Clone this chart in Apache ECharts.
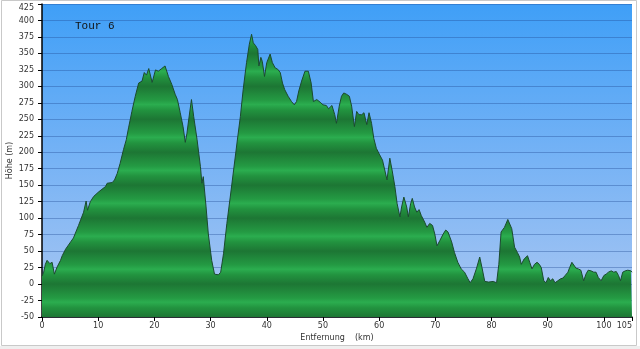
<!DOCTYPE html>
<html>
<head>
<meta charset="utf-8">
<script src="https://cdn.jsdelivr.net/npm/echarts@6/dist/echarts.min.js"></script>
<style>
html,body{margin:0;padding:0;background:#efefef;}
#wrap{position:absolute;left:0;top:0;width:640px;height:349px;}
#chart{width:640px;height:349px;}
</style>
</head>
<body>
<div id="wrap"><div id="chart"></div></div>
<script>
const distKm = [0.0,0.3,0.6,0.9,1.2,1.4,1.8,2.2,2.4,2.7,3.0,3.3,3.6,4.2,4.5,5.1,5.6,6.5,7.4,7.85,8.1,8.6,9.2,10.1,11.3,11.6,12.5,12.9,13.4,13.9,14.5,15.0,15.4,16.0,16.6,17.2,17.8,18.2,18.6,19.0,19.6,20.2,20.7,21.3,21.9,22.5,23.1,23.7,24.1,24.6,25.1,25.5,25.8,26.1,26.6,27.0,27.6,28.2,28.45,28.7,29.2,29.6,30.2,30.7,31.4,31.8,32.3,32.9,33.5,34.1,34.7,35.3,35.8,36.4,36.9,37.3,37.6,38.0,38.4,38.6,38.95,39.2,39.6,40.0,40.6,41.0,41.5,41.95,42.4,42.8,43.2,43.8,44.4,44.9,45.3,45.7,46.2,46.8,47.4,47.9,48.3,48.9,49.5,50.0,50.6,51.0,51.6,52.1,52.4,52.9,53.3,53.7,54.2,54.7,55.1,55.6,56.0,56.4,56.9,57.3,57.8,58.2,58.65,59.05,59.5,60.1,60.6,61.0,61.4,61.9,62.3,62.8,63.2,63.7,64.0,64.4,64.9,65.2,65.6,65.9,66.3,66.7,67.1,67.5,68.1,68.5,69.0,69.5,69.9,70.3,70.8,71.4,71.85,72.25,72.9,73.4,74.0,74.6,75.2,75.8,76.2,76.7,77.3,77.9,78.3,78.8,79.5,80.3,80.9,81.3,81.7,82.3,82.9,83.2,83.6,84.1,84.6,85.0,85.3,85.8,86.4,86.8,87.2,87.65,88.1,88.5,88.85,89.3,89.7,90.1,90.5,90.9,91.3,91.8,92.3,92.7,93.1,93.6,93.9,94.3,94.6,95.05,95.45,95.9,96.4,96.8,97.2,97.7,98.2,98.6,99.0,99.5,100.0,100.4,100.8,101.3,101.75,102.2,102.6,102.95,103.35,103.8,104.25,104.8,105.0];
const elevM = [12,18,30,36,38,31,33,15,17,26,24,36,43,53,52,64,70,89,109,126,112,125,133,140,148,153,154,158,168,183,204,219,237,262,285,305,308,321,317,327,306,325,323,327,331,315,303,288,280,260,239,215,229,249,280,254,219,178,153,163,117,76,36,15,14,18,46,92,132,173,214,254,295,336,364,379,366,362,356,331,344,338,315,336,349,336,328,326,321,305,295,285,277,272,277,293,308,323,323,305,277,280,276,272,271,266,271,257,244,270,285,290,288,285,270,239,262,257,257,260,242,260,244,221,206,196,188,173,158,191,173,148,122,102,117,132,117,102,122,130,117,109,113,104,94,86,92,89,76,58,66,76,82,79,64,48,33,23,18,8,2,8,23,41,25,4,3,4,2,30,79,86,98,99,84,56,48,41,30,38,43,33,23,30,33,30,25,5,2,10,5,8,2,5,8,9,13,18,25,33,35,24,23,21,5,15,21,20,18,18,10,5,13,15,18,20,18,19,13,5,18,20,21,20,18];
const xTicks = {min: 0, max: 105, interval: 10};
const yTicks = {min: -50, max: 425, interval: 25};
const titleText = 'Tour 6';
const xName = 'Entfernung    (km)';
const yName = 'Höhe (m)';

const points = distKm.map((d, i) => [d, elevM[i]]);

// banded green fill (dark at every 50 m), global pixel gradient
const gTop = 4, gBottom = 317;
const pxPer50 = (gBottom - gTop) / 19 * 2;
const bandTopPx = gBottom - 10 * pxPer50;
const bandStops = [];
for (let k = 0; k < 10; k++) {
  const b = k / 10, s = 1 / 10;
  bandStops.push({offset: b, color: '#1d7634'});
  bandStops.push({offset: b + s * 0.28, color: '#22933f'});
  bandStops.push({offset: b + s * 0.45, color: '#2bad4f'});
  bandStops.push({offset: b + s * 0.58, color: '#249a43'});
}
bandStops.push({offset: 1, color: '#1d7634'});

const lbl = {fontFamily: 'DejaVu Sans', fontSize: 8, color: '#333'};

const chart = echarts.init(document.getElementById('chart'), null, {renderer: 'canvas'});
chart.setOption({
  backgroundColor: '#ffffff',
  animation: false,
  title: {
    text: titleText, left: 75, top: 21, padding: 0,
    textStyle: {fontFamily: 'Liberation Mono', fontSize: 11, fontWeight: 'normal', color: '#111'}
  },
  graphic: [{
    type: 'rect', silent: true, z: -1,
    shape: {x: 1.5, y: 0.5, width: 635, height: 345},
    style: {fill: 'none', stroke: '#c9c9c9', lineWidth: 1}
  }, {
    type: 'rect', silent: true, z: -1,
    shape: {x: 0, y: 346, width: 640, height: 3},
    style: {fill: '#efefef'}
  }],
  grid: {
    left: 42, right: 8, top: gTop, bottom: 349 - gBottom,
    outerBoundsMode: 'none', containLabel: false,
    show: true, borderWidth: 0,
    backgroundColor: new echarts.graphic.LinearGradient(0, 0, 0, 1, [
      {offset: 0, color: '#3f9ff7'},
      {offset: 0.5, color: '#77b3f5'},
      {offset: 1, color: '#abc7f2'}
    ])
  },
  xAxis: {
    type: 'value', min: xTicks.min, max: xTicks.max, interval: xTicks.interval,
    name: xName, nameLocation: 'middle', nameGap: 17, nameMoveOverlap: false,
    nameTextStyle: lbl,
    axisLine: {show: true, onZero: false, lineStyle: {color: '#000', width: 1.5}},
    axisTick: {show: true, length: 4, lineStyle: {color: '#000'}},
    axisLabel: Object.assign({margin: 5, alignMaxLabel: 'right'}, lbl),
    splitLine: {show: false}
  },
  yAxis: {
    type: 'value', min: yTicks.min, max: yTicks.max, interval: yTicks.interval,
    name: yName, nameLocation: 'middle', nameGap: 28, nameRotate: 90, nameMoveOverlap: false,
    nameTextStyle: lbl,
    axisLine: {show: true, onZero: false, lineStyle: {color: '#000', width: 1.5}},
    axisTick: {show: true, length: 4, lineStyle: {color: '#000'}},
    axisLabel: Object.assign({margin: 8, verticalAlignMaxLabel: 'top'}, lbl),
    splitLine: {show: true, lineStyle: {color: 'rgba(35,75,150,0.38)', width: 1}}
  },
  series: [{
    type: 'line', data: points, symbol: 'none', smooth: false,
    lineStyle: {color: '#1b4a2e', width: 1},
    areaStyle: {
      origin: 'start', opacity: 1,
      color: new echarts.graphic.LinearGradient(0, gBottom, 0, bandTopPx, bandStops, true)
    },
    z: 3
  }]
});
</script>
</body>
</html>
